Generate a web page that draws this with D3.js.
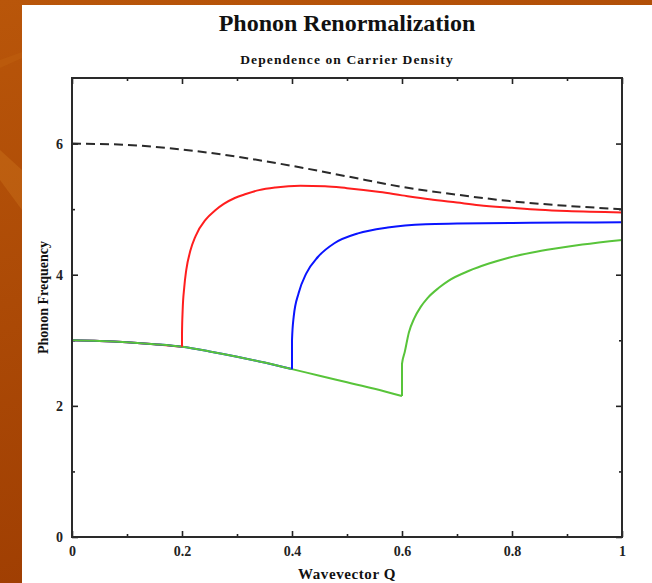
<!DOCTYPE html>
<html>
<head>
<meta charset="utf-8">
<script src="https://cdn.jsdelivr.net/npm/d3@7"></script>
<style>
  html, body { margin: 0; padding: 0; overflow: hidden; background: #fff; }
  svg { display: block; }
  text { font-family: "Liberation Serif", "Times New Roman", serif; font-weight: bold; }
</style>
</head>
<body>
<svg id="chart" width="652" height="583"></svg>
<script>
// ---- data -------------------------------------------------------------
const xTicks = [0, 0.2, 0.4, 0.6, 0.8, 1];
const xMinorTicks = [0.1, 0.3, 0.5, 0.7, 0.9];
const yTicks = [0, 2, 4, 6];
const yMinorTicks = [1, 3, 5];

// bare phonon dispersion (dashed)
const bareQ    = [0, 0.1, 0.2, 0.3, 0.4, 0.5, 0.6, 0.7, 0.8, 0.9, 1];
const bareFreq = [6.0, 5.98, 5.91, 5.80, 5.66, 5.50, 5.34, 5.22, 5.12, 5.05, 5.0];

// softened branch shared by all densities below the jump
const lowerQ    = [0, 0.05, 0.1, 0.15, 0.2, 0.25, 0.3, 0.35, 0.4, 0.45, 0.5, 0.55, 0.6];
const lowerFreq = [3.0, 2.99, 2.97, 2.94, 2.90, 2.83, 2.75, 2.66, 2.56, 2.46, 2.36, 2.26, 2.15];

// upper branches for three carrier densities
const redQ    = [0.2, 0.2, 0.2012, 0.204, 0.2077, 0.215, 0.2247, 0.243, 0.26, 0.276, 0.296, 0.316, 0.34, 0.37, 0.415, 0.46, 0.5, 0.56, 0.6, 0.65, 0.7, 0.74, 0.8, 0.85, 0.9, 1];
const redFreq = [2.90, 3.10, 3.46, 3.80, 4.07, 4.36, 4.59, 4.84, 4.98, 5.08, 5.17, 5.23, 5.29, 5.33, 5.355, 5.35, 5.32, 5.26, 5.21, 5.15, 5.10, 5.06, 5.02, 4.99, 4.97, 4.95];

const blueQ    = [0.4, 0.4, 0.4031, 0.4121, 0.426, 0.447, 0.477, 0.52, 0.574, 0.643, 0.7, 0.8, 0.9, 1];
const blueFreq = [2.56, 3.00, 3.36, 3.72, 4.02, 4.27, 4.48, 4.63, 4.72, 4.77, 4.78, 4.79, 4.795, 4.80];

const greenQ    = [0.6, 0.6, 0.605, 0.6125, 0.622, 0.634, 0.646, 0.667, 0.685, 0.722, 0.758, 0.794, 0.837, 0.879, 0.928, 1];
const greenFreq = [2.15, 2.64, 2.82, 3.12, 3.33, 3.51, 3.64, 3.80, 3.91, 4.06, 4.17, 4.26, 4.34, 4.40, 4.46, 4.53];

const seriesDefs = [
  { name: "red",   jump: 0.2, q: redQ,   f: redFreq,   color: "#ff1e1e" },
  { name: "blue",  jump: 0.4, q: blueQ,  f: blueFreq,  color: "#0a14ff" },
  { name: "green", jump: 0.6, q: greenQ, f: greenFreq, color: "#58c43a" }
];

// ---- layout -----------------------------------------------------------
const W = 652, H = 583;
const plot = { left: 72, right: 622, top: 78, bottom: 537 };

const svg = d3.select("#chart");

// slide background
const defs = svg.append("defs");
const bg = defs.append("linearGradient").attr("id", "bgGrad")
  .attr("x1", 0).attr("y1", 0).attr("x2", 0.3).attr("y2", 1);
bg.append("stop").attr("offset", 0).attr("stop-color", "#b9560a");
bg.append("stop").attr("offset", 1).attr("stop-color", "#9e3d02");
svg.append("rect").attr("width", W).attr("height", H).attr("fill", "url(#bgGrad)");
svg.append("path")
  .attr("d", "M0,150 L22,170 L22,210 L0,180 Z")
  .attr("fill", "#d27a20").attr("opacity", 0.35);
svg.append("path")
  .attr("d", "M0,60 L22,52 L22,58 L0,68 Z")
  .attr("fill", "#c86a14").attr("opacity", 0.3);

// white chart panel
svg.append("rect").attr("x", 22).attr("y", 5).attr("width", W - 22).attr("height", H - 5).attr("fill", "#ffffff");

// scales
const x = d3.scaleLinear().domain([0, 1]).range([plot.left, plot.right]);
const y = d3.scaleLinear().domain([0, 7]).range([plot.bottom, plot.top]);

// axes with inward ticks on all four sides
const tickColor = "#222";
function styleAxis(g) {
  g.select(".domain").remove();
  g.selectAll(".tick line").attr("stroke", tickColor).attr("stroke-width", 1.6);
  g.selectAll(".tick text")
    .attr("fill", "#222")
    .style("font-size", "14px");
}

svg.append("g").attr("transform", `translate(0,${plot.bottom})`)
  .call(d3.axisBottom(x).tickValues(xTicks).tickSize(-6).tickPadding(9).tickFormat(d3.format("")))
  .call(styleAxis);
svg.append("g").attr("transform", `translate(0,${plot.bottom})`)
  .call(d3.axisBottom(x).tickValues(xMinorTicks).tickSize(-3).tickFormat(""))
  .call(styleAxis);
svg.append("g").attr("transform", `translate(0,${plot.top})`)
  .call(d3.axisTop(x).tickValues(xTicks).tickSize(-6).tickFormat(""))
  .call(styleAxis);
svg.append("g").attr("transform", `translate(0,${plot.top})`)
  .call(d3.axisTop(x).tickValues(xMinorTicks).tickSize(-3).tickFormat(""))
  .call(styleAxis);

svg.append("g").attr("transform", `translate(${plot.left},0)`)
  .call(d3.axisLeft(y).tickValues(yTicks).tickSize(-6).tickPadding(9).tickFormat(d3.format("")))
  .call(styleAxis);
svg.append("g").attr("transform", `translate(${plot.left},0)`)
  .call(d3.axisLeft(y).tickValues(yMinorTicks).tickSize(-3).tickFormat(""))
  .call(styleAxis);
svg.append("g").attr("transform", `translate(${plot.right},0)`)
  .call(d3.axisRight(y).tickValues(yTicks).tickSize(-6).tickFormat(""))
  .call(styleAxis);
svg.append("g").attr("transform", `translate(${plot.right},0)`)
  .call(d3.axisRight(y).tickValues(yMinorTicks).tickSize(-3).tickFormat(""))
  .call(styleAxis);

// curves
const line = d3.line()
  .x(d => x(d.q))
  .y(d => y(d.v))
  .curve(d3.curveMonotoneX);

const curves = svg.append("g")
  .attr("fill", "none")
  .attr("stroke-width", 2)
  .attr("stroke-linejoin", "round")
  .attr("stroke-linecap", "butt");

// shared lower branch for each density, drawn red → blue → green
seriesDefs.forEach(s => {
  const pts = lowerQ.map((q, i) => ({ q, v: lowerFreq[i] })).filter(d => d.q <= s.jump + 1e-9);
  curves.append("path").attr("d", line(pts)).attr("stroke", s.color);
});

// upper branches
seriesDefs.forEach(s => {
  const pts = s.q.map((q, i) => ({ q, v: s.f[i] }));
  curves.append("path").attr("d", line(pts)).attr("stroke", s.color);
});

// bare dispersion
curves.append("path")
  .attr("d", line(bareQ.map((q, i) => ({ q, v: bareFreq[i] }))))
  .attr("stroke", "#2a2a2a")
  .attr("stroke-dasharray", "9 5");

// frame
svg.append("rect")
  .attr("x", plot.left).attr("y", plot.top)
  .attr("width", plot.right - plot.left).attr("height", plot.bottom - plot.top)
  .attr("fill", "none").attr("stroke", "#2a2a2a").attr("stroke-width", 2);

// titles and axis labels
const cx = (plot.left + plot.right) / 2;
svg.append("text").attr("x", cx).attr("y", 31)
  .attr("text-anchor", "middle").style("font-size", "24px").attr("fill", "#111")
  .text("Phonon Renormalization");
svg.append("text").attr("x", cx).attr("y", 64)
  .attr("text-anchor", "middle").style("font-size", "13.5px").style("letter-spacing", "1.1px").attr("fill", "#111")
  .text("Dependence on Carrier Density");
svg.append("text").attr("x", cx).attr("y", 579)
  .attr("text-anchor", "middle").style("font-size", "15px").style("letter-spacing", "0.6px").attr("fill", "#111")
  .text("Wavevector Q");
svg.append("text")
  .attr("transform", `translate(48,${(plot.top + plot.bottom) / 2 - 10}) rotate(-90)`)
  .attr("text-anchor", "middle").style("font-size", "14px").attr("fill", "#111")
  .text("Phonon Frequency");
</script>
</body>
</html>
